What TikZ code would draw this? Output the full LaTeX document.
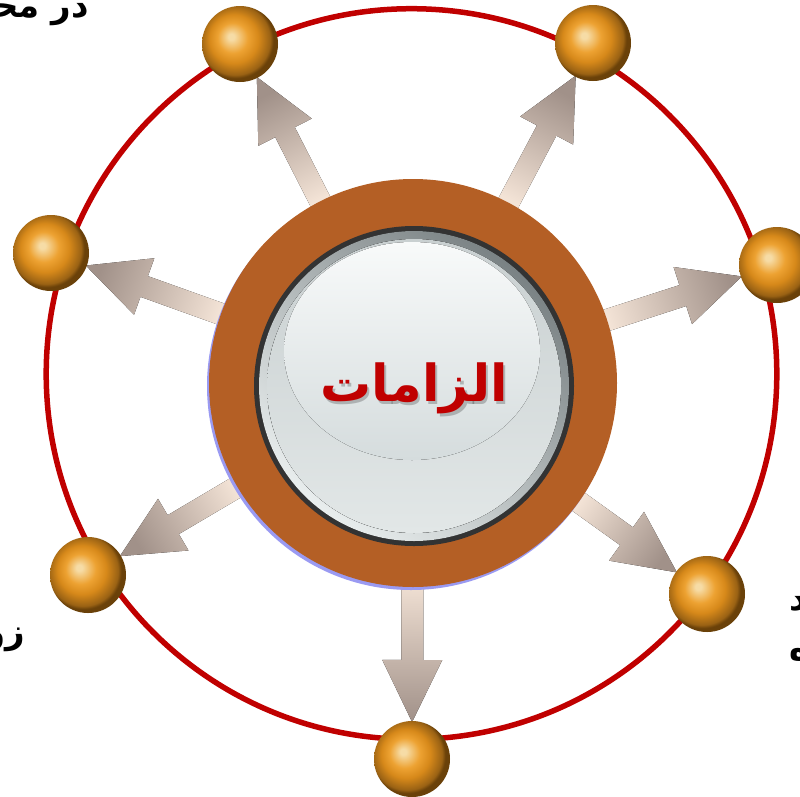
\documentclass[tikz,border=0pt]{standalone}
\usepackage{fontspec}
\newfontfamily\arabicfont[Script=Arabic]{DejaVu Sans}
\TeXXeTstate=1
\usetikzlibrary{calc}
\definecolor{ringred}{HTML}{C00000}
\definecolor{brownring}{HTML}{B45F25}
\definecolor{shadowblue}{HTML}{9A9AF2}
\definecolor{orbA}{HTML}{F6DCA6}
\definecolor{orbB}{HTML}{EDA232}
\definecolor{orbC}{HTML}{D7891A}
\definecolor{orbD}{HTML}{9A6214}
\definecolor{orbE}{HTML}{6A4109}
\definecolor{arrowA}{HTML}{F3E3D6}
\definecolor{arrowB}{HTML}{A19189}
\definecolor{innerdark}{HTML}{333333}
\definecolor{bevelDark}{HTML}{7A8284}
\definecolor{bevelLight}{HTML}{E9EEEE}
\definecolor{discTop}{HTML}{C9D0D1}
\definecolor{discBot}{HTML}{E2E7E7}
\definecolor{hiTop}{HTML}{F8FAFA}
\definecolor{hiBot}{HTML}{D5DCDD}
\definecolor{titlered}{HTML}{C00000}
\pgfdeclareradialshading{orb}{\pgfpoint{-6bp}{5bp}}{color(0bp)=(orbA); color(2bp)=(orbA); color(10bp)=(orbB); color(16bp)=(orbC); color(23bp)=(orbD); color(25bp)=(orbE); color(50bp)=(orbE)}
\tikzset{
  orbnode/.style={circle, minimum size=76pt, inner sep=0pt, shading=orb},
  edgetext/.style={font=\arabicfont\bfseries\fontsize{34}{40}\selectfont, text=black, inner sep=0pt},
  titlefont/.style={font=\arabicfont\bfseries\fontsize{51}{60}\selectfont, inner sep=0pt},
}
\begin{document}
\begin{tikzpicture}[x=1pt,y=-1pt]
\useasboundingbox (0,0) rectangle (800,796);
\clip (0,0) rectangle (800,796);
\fill[white] (0,0) rectangle (800,796);
% centre and ball positions
\coordinate (c) at (413,383);
\coordinate (k1) at (240,44);
\coordinate (k2) at (593,43);
\coordinate (k3) at (777,265);
\coordinate (k4) at (707,594);
\coordinate (k5) at (412,759);
\coordinate (k6) at (88,575);
\coordinate (k7) at (51,253);
% red ring
\draw[ringred, line width=5.5pt] (411.5,374) circle (365.3);
% arrows
\foreach \k in {k1,k2,k3,k4,k5,k6,k7}{
  \path let \p1=($(\k)-(c)$) in \pgfextra{%
    \pgfmathsetmacro\Ang{atan2(\y1,\x1)}%
    \pgfmathsetmacro\Len{veclen(\x1,\y1)-37}%
    \pgfmathsetmacro\Sh{\Ang-90}%
    \xdef\gAng{\Ang}\xdef\gLen{\Len}\xdef\gSh{\Sh}};
  \begin{scope}[shift={(c)}, rotate=\gAng]
    \fill[top color=arrowB, bottom color=arrowA, shading angle=\gSh]
      (195,-11) -- ({\gLen-62},-11) -- ({\gLen-62},-30) -- (\gLen,0)
      -- ({\gLen-62},30) -- ({\gLen-62},11) -- (195,11) -- cycle;
  \end{scope}
}
% central disc
\fill[shadowblue] ($(c)+(-2,3)$) circle (204);
\node[circle, minimum size=408pt, inner sep=0pt, fill=brownring] (hub) at (c) {};
\fill[innerdark] ($(c)+(1,3)$) circle (160);
\fill[even odd rule, top color=bevelDark, bottom color=bevelLight, shading angle=-40]
  ($(c)+(1,3)$) circle (155) ($(c)+(1,3)$) circle (147);
\fill[top color=discTop, bottom color=discBot] ($(c)+(1,3)$) circle (147);
\fill[top color=hiTop, bottom color=hiBot] ($(c)+(-1,-32)$) ellipse (128 and 109);
% title
\node[titlefont, text=black, opacity=0.22] at ($(c)+(3.5,8)$) {\beginR الزامات\endR};
\node[titlefont, text=titlered] (title) at ($(c)+(1,5)$) {\beginR الزامات\endR};
% balls
\foreach \k [count=\i] in {k1,k2,k3,k4,k5,k6,k7}{
  \node[orbnode] (b\i) at (\k) {};
}
% partially visible labels at the edges
\node[edgetext, anchor=base east] (t1) at (89,17) {\beginR در محیط\endR};
\node[edgetext, anchor=base east] (t2) at (25,643) {\beginR زو\endR};
\node[edgetext, anchor=base west] (t3) at (789,610) {\beginR د\endR};
\node[edgetext, anchor=base west] (t4) at (789,660) {\beginR ه\endR};
\end{tikzpicture}
\end{document}
